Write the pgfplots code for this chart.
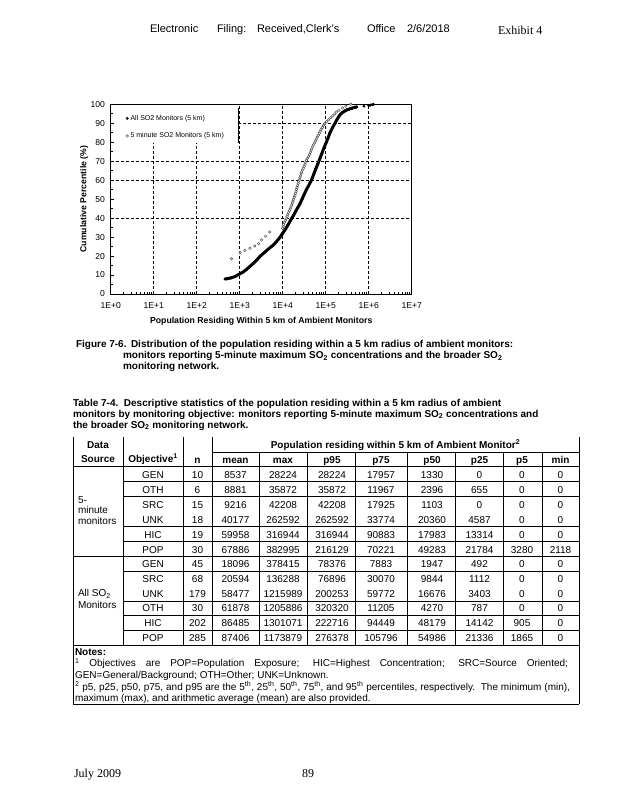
\documentclass[border=0pt]{standalone}
\usepackage{fontspec}
\setmainfont{Liberation Sans}
\newfontfamily\timesfont{Liberation Serif}
\usepackage{pgfplots}
\usepackage{pgfplotstable}
\pgfplotsset{compat=1.18}

\newcommand{\fsz}[1]{\fontsize{#1}{#1}\selectfont}

\pgfplotstableread{
x y
457 7.9
525 8.1
631 8.5
794 9.3
1000 10.6
1202 11.6
1413 12.8
1738 14.6
2089 16.2
2512 18.0
2951 19.8
3548 21.4
4169 22.8
5012 24.3
6026 25.8
7079 27.5
8318 29.4
10000 32.0
11482 34.0
13183 36.3
16218 39.9
18197 41.8
19953 43.5
22387 45.5
25119 47.5
28184 50.0
31623 52.5
35481 55.0
39811 57.0
43652 58.8
47206 60.3
52481 63.0
58884 66.0
66069 68.8
73621 71.5
81283 74.0
89125 76.5
100000 79.2
112202 82.0
125893 85.0
144544 87.8
164437 90.0
186209 92.3
213796 94.4
239883 95.5
275423 96.4
309030 97.0
354813 97.5
416869 98.0
478630 98.4
524807 98.6
}\allA

\pgfplotstableread{
x y
776247 99.0
1000000 99.3
1096478 99.6
1202264 99.8
1288250 100
}\allB

\pgfplotstableread{
x y
646 18.6
1023 21.8
1318 23.0
1738 24.1
2239 25.3
2754 26.6
3236 28.5
3981 30.5
5012 32.7
10000 34.6
10233 35.7
10471 36.7
10965 37.8
11482 38.8
12023 39.8
12589 40.8
13183 41.8
13646 42.9
14289 43.9
14962 44.9
15488 45.9
16218 46.9
16788 48.0
17378 49.0
17989 50.0
18621 51.0
19275 52.0
19953 53.1
20417 54.1
20893 55.1
21380 56.1
22131 57.1
22909 58.2
23442 59.2
24266 60.2
25119 61.2
26002 62.2
26915 63.3
27542 64.3
28840 65.3
30200 66.3
31623 67.3
33113 68.4
34277 69.4
35481 70.4
37154 71.4
39811 72.4
41687 73.5
43652 74.5
45709 75.5
47315 76.5
49545 77.6
51880 78.6
54954 79.6
57544 80.6
60256 81.6
63096 82.7
66834 83.7
70795 84.7
74131 85.7
77625 86.7
83176 87.8
89125 88.8
95499 89.8
104713 90.8
114815 91.8
128825 92.9
144544 93.9
162181 94.9
177828 95.9
204174 96.9
245471 98.0
295121 99.0
382995 100
}\fivemin

\newcommand{\trow}[2]{%
  \foreach \val [count=\i from 0] in {#2} {%
    \pgfmathsetmacro{\cx}{{153,197.5,235.5,283,332,381,432,479.5,522,560.5}[\i]}%
    \node[inner sep=0pt, anchor=base, font=\fsz{10}] at (\cx, 800-#1) {\val};
  }}

\begin{document}
\begin{tikzpicture}[x=1pt,y=1pt, t/.style={inner sep=0pt, outer sep=0pt, anchor=base west}]
\fill[white] (0,0) rectangle (618,800);
\useasboundingbox (0,0) rectangle (618,800);

% page header
\node[t, font=\fsz{11}] at (150,800-32.3) {Electronic};
\node[t, font=\fsz{11}] at (217,800-32.3) {Filing:};
\node[t, font=\fsz{11}] at (257,800-32.3) {Received,Clerk's};
\node[t, font=\fsz{11}] at (367,800-32.3) {Office};
\node[t, font=\fsz{11}] at (407,800-32.3) {2/6/2018};
\node[t, font=\timesfont\fsz{12}] at (498,800-34.5) {Exhibit 4};

% chart
\begin{axis}[
  at={(110.7pt,506pt)}, anchor=south west,
  width=301pt, height=189.7pt, scale only axis,
  xmode=log, xmin=1, xmax=1e7, ymin=0, ymax=100,
  xtick={1,10,100,1000,10000,100000,1000000,10000000},
  xticklabels={1E+0,1E+1,1E+2,1E+3,1E+4,1E+5,1E+6,1E+7},
  ytick={0,10,20,30,40,50,60,70,80,90,100},
  minor ytick={5,15,25,35,45,55,65,75,85,95},
  tick align=inside, tick pos=left,
  major tick length=3pt, minor tick length=2pt,
  every tick/.style={black, line width=0.6pt},
  axis line style={black, line width=0.8pt},
  /pgf/number format/assume math mode=true,
  x tick label style={font=\fsz{8.6}, inner sep=0pt, anchor=center, yshift=-11.7pt},
  y tick label style={font=\fsz{8.6}, inner sep=0pt, anchor=east, xshift=-5.5pt},
  xlabel={Population Residing Within 5 km of Ambient Monitors},
  ylabel={Cumulative Percentile (\%)},
  xlabel style={font=\bfseries\fsz{8.7}, inner sep=0pt, at={(axis description cs:0.5,-0.142)}, anchor=center},
  ylabel style={font=\bfseries\fsz{8.7}, inner sep=0pt, at={(axis description cs:-0.0887,0.5)}, anchor=center},
  clip=false,
  legend image code/.code={\draw[#1] plot coordinates {(0pt,0pt)};},
  legend style={draw=none, fill=none, at={(0.050,0.949)}, anchor=north west,
    font=\fsz{7}, row sep=9pt, inner sep=0pt, nodes={inner sep=1pt}, column sep=1pt},
  legend cell align=left,
]
% grid lines
\foreach \gx in {10,100} {\edef\tmp{\noexpand\draw[black, line width=0.6pt, dash pattern=on 3pt off 2pt] (axis cs:\gx,0) -- (axis cs:\gx,79.6);}\tmp}
\foreach \gx in {1000,10000,100000,1000000} {\edef\tmp{\noexpand\draw[black, line width=0.6pt, dash pattern=on 3pt off 2pt] (axis cs:\gx,0) -- (axis cs:\gx,100);}\tmp}
\draw[black, line width=0.6pt, dash pattern=on 3pt off 2pt] (axis cs:1,40) -- (axis cs:1e7,40);
\draw[black, line width=0.6pt, dash pattern=on 3pt off 2pt] (axis cs:1,60) -- (axis cs:1e7,60);
\draw[black, line width=0.6pt, dash pattern=on 3pt off 2pt] (axis cs:1,70) -- (axis cs:1e7,70);
\draw[black, line width=0.6pt, dash pattern=on 3pt off 2pt] (axis cs:927,90) -- (axis cs:1e7,90);
\draw[black, line width=0.8pt] (axis cs:927,79.6) -- (axis cs:927,98);

\addplot[black, line width=3pt, line cap=round, line join=round, forget plot] table {\allA};
\addplot[only marks, mark=*, mark size=1.25pt, black] table {\allA};
\addlegendentry{All SO2 Monitors (5 km)}
\addplot[only marks, mark=*, mark size=1.25pt, black, forget plot] table {\allB};
\addplot[only marks, mark=*, mark size=1.3pt, mark options={fill=white, draw=black!70, line width=0.45pt}] table {\fivemin};
\addlegendentry{5 minute SO2 Monitors (5 km)}
\end{axis}

% figure caption
\node[t, font=\bfseries\fsz{10}] at (76,800-348) {Figure 7-6.};
\node[t, font=\bfseries\fsz{10}] at (131,800-348) {Distribution of the population residing within a 5 km radius of ambient monitors:};
\node[t, font=\bfseries\fsz{10}] at (123,800-359) {monitors reporting 5-minute maximum SO\textsubscript{2} concentrations and the broader SO\textsubscript{2}};
\node[t, font=\bfseries\fsz{10}] at (123,800-370) {monitoring network.};

% table caption
\node[t, font=\bfseries\fsz{10}] at (73,800-406.5) {Table 7-4.\ \ Descriptive statistics of the population residing within a 5 km radius of ambient};
\node[t, font=\bfseries\fsz{10}] at (73,800-417.5) {monitors by monitoring objective: monitors reporting 5-minute maximum SO\textsubscript{2} concentrations and};
\node[t, font=\bfseries\fsz{10}] at (73,800-428.5) {the broader SO\textsubscript{2} monitoring network.};

% table lines
\begin{scope}[line width=0.8pt]
\draw (73,800-437) -- (73,800-704.3);
\draw (579,800-437) -- (579,800-704.3);
\foreach \vx in {123,183,212} {\draw (\vx,800-437) -- (\vx,800-645.5);}
\foreach \vx in {259,307,355,407,455,503,542} {\draw (\vx,800-452) -- (\vx,800-645.5);}
\draw (212,800-452) -- (579,800-452);
\foreach \hy in {466,556.7,645.5,704.3} {\draw (73,800-\hy) -- (579,800-\hy);}
\foreach \hy in {481.1,496.2,526.4,541.6,571.5,601.1,615.9,630.7} {\draw (123,800-\hy) -- (579,800-\hy);}
\end{scope}

% table header
\node[inner sep=0pt, anchor=base, font=\bfseries\fsz{10}] at (98,800-448.6) {Data};
\node[inner sep=0pt, anchor=base, font=\bfseries\fsz{10}] at (98,800-462.6) {Source};
\node[inner sep=0pt, anchor=base, font=\bfseries\fsz{10}] at (153,800-462.6) {Objective\textsuperscript{1}};
\node[inner sep=0pt, anchor=base, font=\bfseries\fsz{10}] at (197.5,800-464) {n};
\node[inner sep=0pt, anchor=base, font=\bfseries\fsz{10}] at (395.5,800-448.6) {Population residing within 5 km of Ambient Monitor\textsuperscript{2}};
\foreach \cx/\hd in {235.5/mean,283/max,332/p95,381/p75,432/p50,479.5/p25,522/p5,560.5/min} {
  \node[inner sep=0pt, anchor=base, font=\bfseries\fsz{10}] at (\cx,800-464) {\hd};}

% data source labels
\node[t, font=\fsz{10}] at (78,800-503.5) {5-};
\node[t, font=\fsz{10}] at (78,800-514) {minute};
\node[t, font=\fsz{10}] at (78,800-525) {monitors};
\node[t, font=\fsz{10}] at (78,800-597) {All SO\textsubscript{2}};
\node[t, font=\fsz{10}] at (78,800-608.6) {Monitors};

% table body
\trow{478.4}{GEN,10,8537,28224,28224,17957,1330,0,0,0}
\trow{493.5}{OTH,6,8881,35872,35872,11967,2396,655,0,0}
\trow{508.3}{SRC,15,9216,42208,42208,17925,1103,0,0,0}
\trow{523.3}{UNK,18,40177,262592,262592,33774,20360,4587,0,0}
\trow{538.3}{HIC,19,59958,316944,316944,90883,17983,13314,0,0}
\trow{553.3}{POP,30,67886,382995,216129,70221,49283,21784,3280,2118}
\trow{567.9}{GEN,45,18096,378415,78376,7883,1947,492,0,0}
\trow{582.6}{SRC,68,20594,136288,76896,30070,9844,1112,0,0}
\trow{597.3}{UNK,179,58477,1215989,200253,59772,16676,3403,0,0}
\trow{611.9}{OTH,30,61878,1205886,320320,11205,4270,787,0,0}
\trow{626.9}{HIC,202,86485,1301071,222716,94449,48179,14142,905,0}
\trow{641.9}{POP,285,87406,1173879,276378,105796,54986,21336,1865,0}

% notes
\node[t, font=\bfseries\fsz{10}] at (75,800-655.3) {Notes:};
\node[t, font=\fsz{10}] at (75,800-667) {\makebox[493pt][s]{\textsuperscript{1} Objectives are POP=Population Exposure; HIC=Highest Concentration; SRC=Source Oriented;}};
\node[t, font=\fsz{10}] at (75,800-678.6) {GEN=General/Background; OTH=Other; UNK=Unknown.};
\node[t, font=\fsz{10}] at (75,800-690.3) {\makebox[495pt][s]{\textsuperscript{2} p5, p25, p50, p75, and p95 are the 5\textsuperscript{th}, 25\textsuperscript{th}, 50\textsuperscript{th}, 75\textsuperscript{th}, and 95\textsuperscript{th} percentiles, respectively.\ \ The minimum (min),}};
\node[t, font=\fsz{10}] at (75,800-701.6) {maximum (max), and arithmetic average (mean) are also provided.};

% footer
\node[t, font=\timesfont\fsz{12}] at (74,800-777.3) {July 2009};
\node[t, font=\timesfont\fsz{12}] at (302,800-777.3) {89};
\end{tikzpicture}
\end{document}
